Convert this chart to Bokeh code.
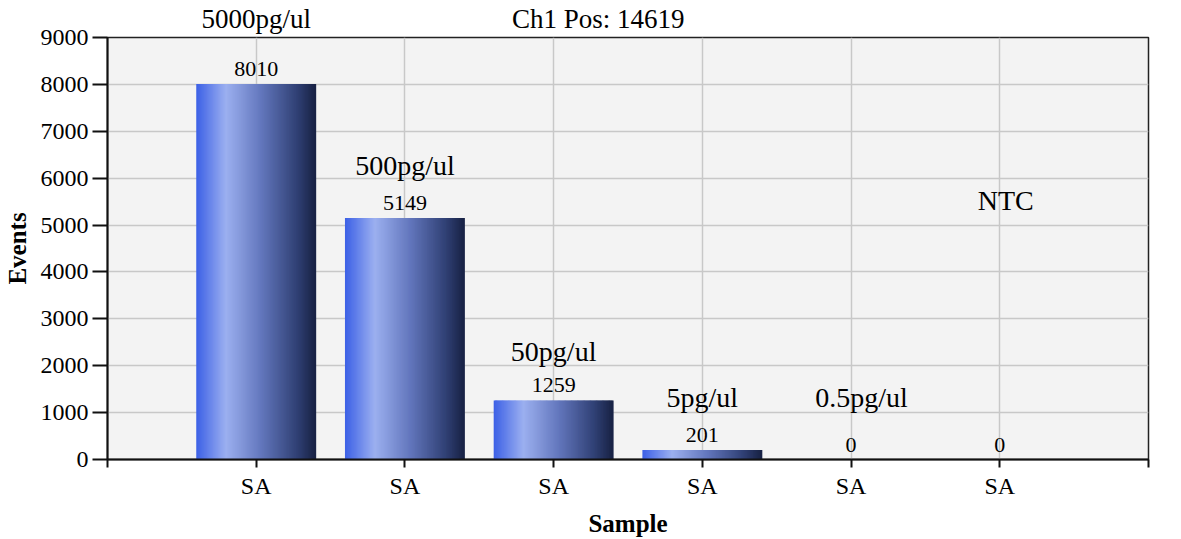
from bokeh.plotting import figure
from bokeh.models import Range1d, FixedTicker, Label, ColumnDataSource, LinearAxis
from bokeh.embed import file_html
from bokeh.resources import INLINE
from bokeh.core.properties import value

# ---- data ----
samples = ["SA", "SA", "SA", "SA", "SA", "SA"]
events = [8010, 5149, 1259, 201, 0, 0]
concentrations = ["5000pg/ul", "500pg/ul", "50pg/ul", "5pg/ul", "0.5pg/ul", "NTC"]
y_ticks = [0, 1000, 2000, 3000, 4000, 5000, 6000, 7000, 8000, 9000]
title_text = "Ch1 Pos: 14619"
x_label = "Sample"
y_label = "Events"

# ---- annotation layout (positions of concentration labels inside the frame) ----
conc_y = [None, 6280, 2300, 1320, 1320, 5530]
conc_dx = [0.0, 0.0, 0.0, 0.0, 0.07, 0.04]
title_x = 3.3

FONT = "Liberation Serif"

p = figure(width=1181, height=539, output_backend="svg", toolbar_location=None,
           x_range=Range1d(0, 7), y_range=Range1d(0, 9000),
           min_border_left=107, min_border_right=33, min_border_top=37, min_border_bottom=79,
           background_fill_color="#f3f3f3", border_fill_color="white")

p.outline_line_color = "#222222"
p.outline_line_width = 1.5

xs = [i + 1 for i in range(len(events))]

# gradient stops for bar shading
stops = [(0.0, (60, 96, 230)), (0.25, (156, 176, 240)), (0.55, (98, 118, 188)),
         (0.85, (48, 64, 116)), (1.0, (24, 34, 68))]

def grad(t):
    for (t0, c0), (t1, c1) in zip(stops[:-1], stops[1:]):
        if t <= t1:
            f = (t - t0) / (t1 - t0) if t1 > t0 else 0
            return "#%02x%02x%02x" % tuple(int(round(a + (b - a) * f)) for a, b in zip(c0, c1))
    return "#%02x%02x%02x" % stops[-1][1]

bar_w = 0.8
N = 100
sx, stop, sc = [], [], []
for x, v in zip(xs, events):
    if v <= 0:
        continue
    for k in range(N):
        t = (k + 0.5) / N
        sx.append(x - bar_w / 2 + t * bar_w)
        stop.append(v)
        sc.append(grad(t))
src = ColumnDataSource(dict(x=sx, top=stop, color=sc))
p.vbar(x="x", top="top", bottom=0, width=bar_w / N * 1.8, fill_color="color",
       line_color=None, source=src)

# value labels
vsrc = ColumnDataSource(dict(x=xs, y=events, t=[str(v) for v in events]))
p.text(x="x", y="y", text="t", source=vsrc, text_align="center", text_baseline="bottom",
       y_offset=-8, text_font=value(FONT), text_font_size="22px", text_color="black")

# concentration labels inside the frame
for x, c, yy, dx in zip(xs, concentrations, conc_y, conc_dx):
    if yy is None:
        continue
    p.add_layout(Label(x=x + dx, y=yy, text=c, text_align="center", text_baseline="middle",
                       text_font=FONT, text_font_size="28px", text_color="black"))

# grids
p.xgrid.ticker = FixedTicker(ticks=xs)
p.xgrid.grid_line_color = "#c8c8c8"
p.xgrid.grid_line_width = 1.5
p.ygrid.grid_line_color = "#c8c8c8"
p.ygrid.grid_line_width = 1.5

# axes
yax = p.yaxis[0]
yax.ticker = FixedTicker(ticks=y_ticks)
yax.major_tick_out = 15
yax.major_tick_in = 0
yax.minor_tick_out = 0
yax.minor_tick_in = 0
yax.major_label_standoff = 4
yax.axis_label = y_label
yax.axis_label_standoff = 7

xax = p.xaxis[0]
xax.ticker = FixedTicker(ticks=[0] + xs + [7])
xax.major_label_overrides = {0: "", 7: "", **{x: s for x, s in zip(xs, samples)}}
xax.major_tick_out = 8
xax.major_tick_in = 0
xax.minor_tick_out = 0
xax.major_label_standoff = 5
xax.axis_label = x_label
xax.axis_label_standoff = 8

for ax in (xax, yax):
    ax.axis_line_color = "#111111"
    ax.axis_line_width = 2
    ax.major_tick_line_color = "#111111"
    ax.major_tick_line_width = 2
    ax.major_label_text_font = FONT
    ax.major_label_text_font_size = "24px"
    ax.major_label_text_color = "black"
    ax.axis_label_text_font = FONT
    ax.axis_label_text_font_size = "25px"
    ax.axis_label_text_font_style = "bold"
    ax.axis_label_text_color = "black"

# top texts (first concentration label and run title) as an unlined axis above
top_ticks = [xs[0], title_x]
top = LinearAxis(ticker=FixedTicker(ticks=top_ticks),
                 major_label_overrides={xs[0]: concentrations[0], title_x: title_text},
                 axis_line_color=None, major_tick_line_color=None,
                 minor_tick_line_color=None, major_tick_out=0, major_tick_in=0,
                 minor_tick_out=0, minor_tick_in=0, major_label_standoff=4,
                 major_label_text_font=FONT, major_label_text_font_size="27px",
                 major_label_text_color="black")
p.add_layout(top, "above")

open("out.html", "w").write(file_html(p, INLINE))
